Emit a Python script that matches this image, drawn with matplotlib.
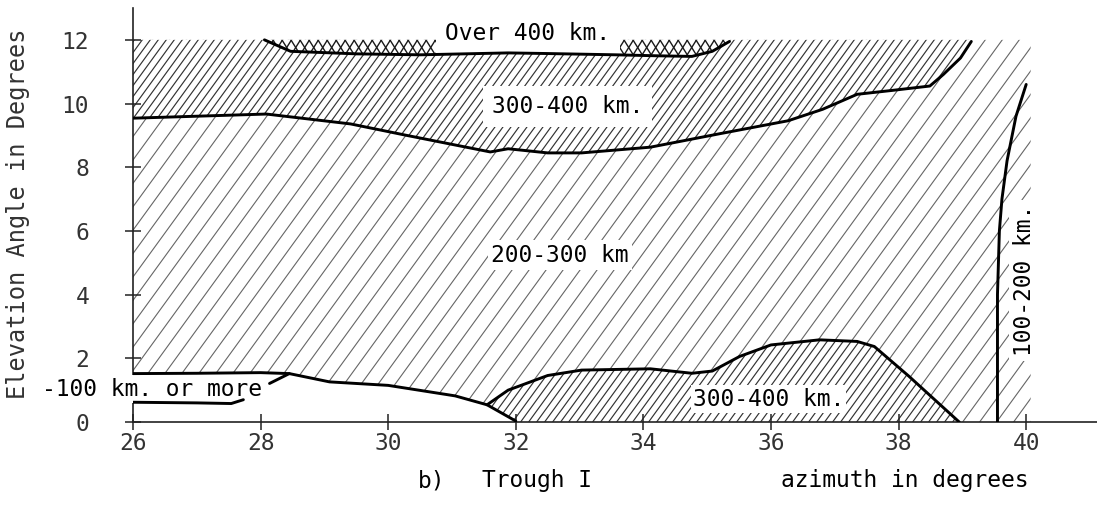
import numpy as np
import matplotlib
matplotlib.use("Agg")
import matplotlib.pyplot as plt
from matplotlib.patches import Polygon
from matplotlib.collections import LineCollection

plt.rcParams['font.family'] = ['DejaVu Sans Mono', 'DejaVu Sans']

# ---------------- data ----------------
x_ticks = [26, 28, 30, 32, 34, 36, 38, 40]
y_ticks = [0, 2, 4, 6, 8, 10, 12]

# boundary between "Over 400 km." and upper "300-400 km."
over400_x = [28.06, 28.47, 29.5, 30.5, 31.88, 32.5, 33.57, 34.2, 34.76, 35.08, 35.35]
over400_y = [12.0, 11.64, 11.56, 11.53, 11.59, 11.57, 11.53, 11.5, 11.48, 11.64, 11.95]

# boundary between upper "300-400 km." and "200-300 km"
mid_x = [26.0, 28.09, 29.41, 30.29, 31.6, 31.88, 32.5, 33.03, 34.11, 35.19,
         36.27, 36.81, 37.35, 37.89, 38.49, 38.7, 38.97, 39.14]
mid_y = [9.54, 9.67, 9.36, 9.0, 8.48, 8.58, 8.45, 8.45, 8.63, 9.05,
         9.46, 9.82, 10.29, 10.41, 10.55, 10.91, 11.43, 11.95]

# boundary of lower "300-400 km." region
low_x = [31.55, 31.88, 32.5, 33.03, 34.11, 34.76, 35.08, 35.51, 36.0, 36.76,
         37.35, 37.62, 38.16, 38.95]
low_y = [0.54, 1.0, 1.46, 1.63, 1.67, 1.53, 1.6, 2.06, 2.42, 2.58,
         2.53, 2.37, 1.44, 0.0]

# boundary of "-100 km. or more" region (upper line)
ll_x = [26.0, 27.0, 28.0, 28.45, 29.08, 30.0, 31.05, 31.55, 32.0]
ll_y = [1.52, 1.53, 1.55, 1.52, 1.26, 1.15, 0.82, 0.54, 0.03]
# lower line of that region
ll2_x = [26.0, 27.0, 27.54, 27.73]
ll2_y = [0.62, 0.6, 0.58, 0.7]
# leader from the label to the line
lead_x = [28.14, 28.45]
lead_y = [1.21, 1.52]

# "100-200 km." boundary
v_x = [39.55, 39.55, 39.58, 39.62, 39.7, 39.84, 40.0]
v_y = [0.0, 4.0, 6.0, 7.0, 8.2, 9.6, 10.6]

# extent of the sparse hatching
sparse_right = 40.07
top_elev = 12.0

# ---------------- figure ----------------
W, H = 1097, 512
fig = plt.figure(figsize=(W / 100, H / 100), dpi=100)
ax_left, ax_bottom = 133 / W, 1 - 422 / H
ax_w, ax_h = 1 - ax_left, (422 - 8) / H
ax = fig.add_axes([ax_left, ax_bottom, ax_w, ax_h])
XMIN, XMAX, YMIN, YMAX = 26, 41.11, 0, 13.0
ax.set_xlim(XMIN, XMAX)
ax.set_ylim(YMIN, YMAX)

px_per_x = W * ax_w / (XMAX - XMIN)
px_per_y = H * ax_h / (YMAX - YMIN)


def add_region(xs, ys, face, z):
    p = Polygon(np.column_stack([xs, ys]), closed=True, facecolor=face,
                edgecolor='none', zorder=z)
    ax.add_patch(p)
    return p


def hatch(patch, spacing_px, angle_deg, color, lw, z):
    slope = np.tan(np.radians(angle_deg)) * px_per_x / px_per_y
    dx = spacing_px / px_per_x
    span = (YMAX - YMIN) / slope
    offs = np.arange(XMIN - abs(span) - 2, XMAX + abs(span) + 2, dx)
    segs = [[(c, YMIN), (c + span, YMAX)] for c in offs]
    lc = LineCollection(segs, colors=color, linewidths=lw, zorder=z)
    ax.add_collection(lc)
    lc.set_clip_path(patch)


# sparse region: 200-300 km (and 100-200 km)
sp_x = [XMIN, sparse_right, sparse_right, ll_x[-1]] + ll_x[::-1]
sp_y = [top_elev, top_elev, 0.0, 0.0] + ll_y[::-1]
p_sparse = add_region(sp_x, sp_y, 'none', 1.0)
hatch(p_sparse, 17, 54, '#666666', 0.8, 1.05)

# upper dense region 300-400 km
up_x = [XMIN] + over400_x + [35.4, mid_x[-1]] + mid_x[::-1]
up_y = [top_elev] + over400_y + [top_elev, top_elev] + mid_y[::-1]
p_up = add_region(up_x, up_y, 'white', 1.1)
hatch(p_up, 8, 54, '#333333', 0.85, 1.15)

# lower dense region 300-400 km
lo_x = low_x + [ll_x[-1], ll_x[-1]]
lo_y = low_y + [0.0, ll_y[-1]]
p_lo = add_region(lo_x, lo_y, 'white', 1.1)
hatch(p_lo, 8, 54, '#333333', 0.85, 1.15)

# crosshatched region: over 400 km
ov_x = over400_x + [over400_x[-1], over400_x[0]]
ov_y = over400_y + [top_elev, top_elev]
p_ov = add_region(ov_x, ov_y, 'white', 1.1)
hatch(p_ov, 9, 58, '#1a1a1a', 1.0, 1.15)
hatch(p_ov, 9, -58, '#1a1a1a', 1.0, 1.15)

# boundary lines
blw = 2.1
for xs, ys in [(over400_x, over400_y), (mid_x, mid_y), (low_x, low_y),
               (ll_x, ll_y), (ll2_x, ll2_y), (lead_x, lead_y), (v_x, v_y)]:
    ax.plot(xs, ys, color='black', lw=blw, solid_capstyle='round',
            solid_joinstyle='round', zorder=4)

# region labels
fs = 16.5
ax.text(32.19, 12.0, 'Over 400 km.', ha='center', va='baseline', fontsize=fs,
        zorder=3, bbox=dict(boxstyle='square,pad=0.4', fc='white', ec='none'))
ax.text(32.81, 9.9, '300-400 km.', ha='center', va='center', fontsize=fs,
        zorder=3, bbox=dict(boxstyle='square,pad=0.4', fc='white', ec='none'))
ax.text(32.69, 5.24, '200-300 km', ha='center', va='center', fontsize=fs,
        zorder=3, bbox=dict(boxstyle='square,pad=0.15', fc='white', ec='none'))
ax.text(35.96, 0.72, '300-400 km.', ha='center', va='center', fontsize=fs,
        zorder=3, bbox=dict(boxstyle='square,pad=0.1', fc='white', ec='none'))
ax.text(39.98, 4.44, '100-200 km.', ha='center', va='center', fontsize=fs,
        rotation=90, zorder=3,
        bbox=dict(boxstyle='square,pad=0.2', fc='white', ec='none'))
ax.text(42 / W, 1 - 389 / H, '-100 km. or more', transform=fig.transFigure,
        ha='left', va='center', fontsize=fs, zorder=3,
        bbox=dict(boxstyle='square,pad=0.1', fc='white', ec='none'))

# caption texts
base_y = 1 - 487 / H
ax.text(418 / W, base_y, 'b)', transform=fig.transFigure, ha='left',
        va='baseline', fontsize=fs)
ax.text(482 / W, base_y, 'Trough I', transform=fig.transFigure, ha='left',
        va='baseline', fontsize=fs)
ax.text(781 / W, base_y, 'azimuth in degrees', transform=fig.transFigure,
        ha='left', va='baseline', fontsize=fs)

# axes styling
for s in ['top', 'right']:
    ax.spines[s].set_visible(False)
for s in ['left', 'bottom']:
    ax.spines[s].set_linewidth(1.2)
    ax.spines[s].set_color('#222222')
ax.set_xticks(x_ticks)
ax.set_xticklabels([str(v) for v in x_ticks])
ax.set_yticks(y_ticks)
ax.set_yticklabels([str(v) for v in y_ticks])
ax.tick_params(axis='both', direction='inout', length=11, width=1.1,
               color='#222222', labelsize=fs, labelcolor='#333333')
ax.tick_params(axis='y', pad=26)
ax.tick_params(axis='x', pad=2)
ax.set_ylabel('Elevation Angle in Degrees', fontsize=17, color='#333333')
ax.yaxis.set_label_coords((18 - 133) / (W * ax_w), (422 - 214) / (H * ax_h))
ax.yaxis.label.set_va('center')

fig.savefig('out.png', dpi=100, facecolor='white')
